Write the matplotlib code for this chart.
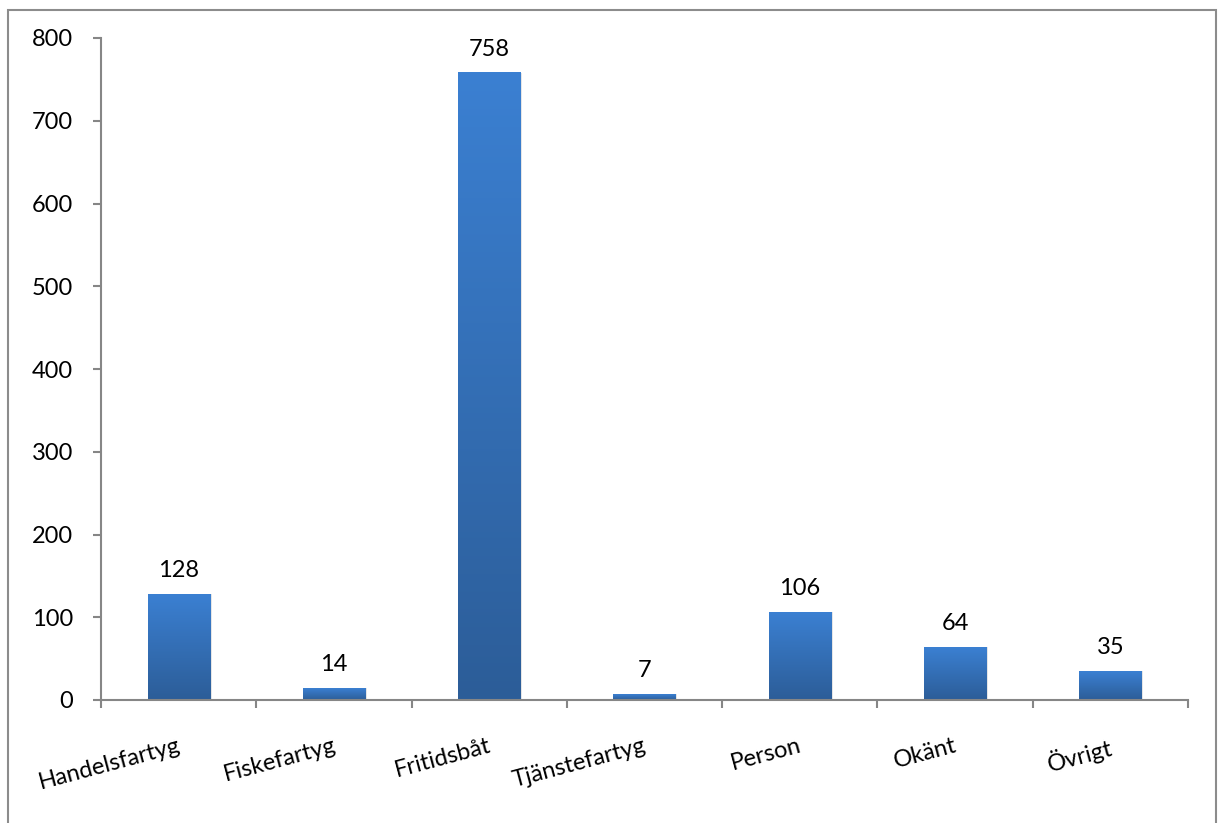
import matplotlib
matplotlib.use("Agg")
import matplotlib.pyplot as plt
import numpy as np
from matplotlib.patches import Rectangle
from matplotlib.colors import LinearSegmentedColormap

categories = ["Handelsfartyg", "Fiskefartyg", "Fritidsbåt", "Tjänstefartyg",
              "Person", "Okänt", "Övrigt"]
values = [128, 14, 758, 7, 106, 64, 35]
y_ticks = [0, 100, 200, 300, 400, 500, 600, 700, 800]

plt.rcParams['font.family'] = ['Lato', 'DejaVu Sans']
FS = 17

W, H = 1222, 823
fig = plt.figure(figsize=(W / 100, H / 100), dpi=100)
fig.patch.set_facecolor("white")

# outer chart-area frame
fig.add_artist(Rectangle((8 / W, -0.05), (1216 - 8) / W, (H - 10) / H + 0.05,
                         transform=fig.transFigure, fill=False,
                         edgecolor="#8c8c8c", linewidth=1.5))

ax = fig.add_axes([101 / W, (H - 700) / H, (1188 - 101) / W, (700 - 38) / H])

grad_cmap = LinearSegmentedColormap.from_list("bar", ["#2c5d98", "#3b80d2"])
grad = np.linspace(0, 1, 256).reshape(-1, 1)
bar_w = 0.4

for i, v in enumerate(values):
    x0 = i - bar_w / 2
    # soft shadow
    ax.add_patch(Rectangle((x0 + 0.012, 0), bar_w, v, facecolor="#000000",
                           alpha=0.10, edgecolor="none", zorder=1))
    ax.imshow(grad, extent=(x0, x0 + bar_w, 0, v), origin="lower",
              cmap=grad_cmap, aspect="auto", zorder=2, interpolation="bilinear")
    ax.text(i, v + 16, str(v), ha="center", va="bottom", fontsize=FS,
            color="black", zorder=3)

ax.set_xlim(-0.5, len(categories) - 0.5)
ax.set_ylim(0, 800)
ax.set_yticks(y_ticks)
ax.set_yticklabels([str(t) for t in y_ticks], fontsize=FS)
ax.set_xticks(np.arange(-0.5, len(categories), 1.0))
ax.set_xticklabels([])

for side in ("top", "right"):
    ax.spines[side].set_visible(False)
for side in ("left", "bottom"):
    ax.spines[side].set_color("#868686")
    ax.spines[side].set_linewidth(1.5)
ax.tick_params(axis="both", colors="#868686", width=1.5, length=6,
               direction="out", labelcolor="black")
ax.tick_params(axis="y", pad=14)

for i, name in enumerate(categories):
    ax.annotate(name, xy=(i, 0), xycoords="data", xytext=(-1, -25),
                textcoords="offset points", ha="right", va="top",
                rotation=15, rotation_mode="anchor", fontsize=FS)

fig.savefig("out.png", dpi=100)
